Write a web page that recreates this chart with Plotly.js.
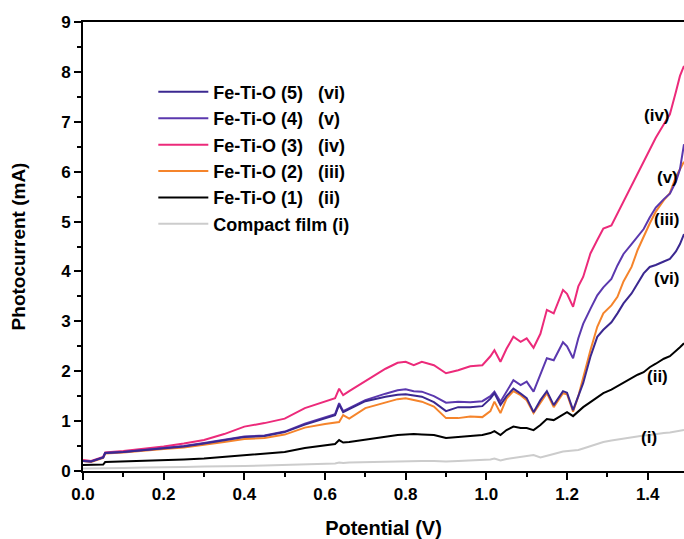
<!DOCTYPE html>
<html>
<head>
<meta charset="utf-8">
<script src="https://cdn.plot.ly/plotly-3.0.1.min.js"></script>
<style>html,body{margin:0;padding:0;background:#fff;}#chart{width:684px;height:539px;}</style>
</head>
<body>
<div id="chart"></div>
<script>
// Potential (V) sample points
const potential = [0, 0.02, 0.05, 0.055, 0.1, 0.15, 0.2, 0.25, 0.3, 0.35,
  0.4, 0.45, 0.5, 0.55, 0.6, 0.625, 0.635, 0.645, 0.66, 0.7,
  0.75, 0.78, 0.8, 0.82, 0.84, 0.87, 0.9, 0.93, 0.96, 0.99,
  1.01, 1.02, 1.035, 1.05, 1.067, 1.085, 1.1, 1.117, 1.134, 1.15,
  1.167, 1.19, 1.2, 1.215, 1.228, 1.24, 1.258, 1.275, 1.29, 1.31,
  1.325, 1.34, 1.36, 1.375, 1.39, 1.405, 1.42, 1.44, 1.455, 1.47,
  1.48, 1.49];

// Photocurrent (mA)
const compactFilm = [0.05, 0.05, 0.06, 0.06, 0.06, 0.07, 0.07, 0.08, 0.09, 0.09,
  0.10, 0.11, 0.12, 0.13, 0.14, 0.15, 0.17, 0.16, 0.17, 0.18,
  0.19, 0.20, 0.20, 0.20, 0.20, 0.20, 0.19, 0.20, 0.21, 0.22,
  0.23, 0.25, 0.21, 0.24, 0.26, 0.27, 0.29, 0.32, 0.27, 0.31,
  0.34, 0.39, 0.40, 0.40, 0.42, 0.45, 0.50, 0.55, 0.58, 0.61,
  0.63, 0.65, 0.67, 0.69, 0.71, 0.72, 0.74, 0.76, 0.77, 0.79,
  0.80, 0.82];
const feTiO1 = [0.12, 0.12, 0.13, 0.18, 0.19, 0.20, 0.21, 0.23, 0.25, 0.28,
  0.32, 0.34, 0.38, 0.46, 0.52, 0.54, 0.62, 0.57, 0.58, 0.63,
  0.69, 0.72, 0.73, 0.74, 0.73, 0.72, 0.66, 0.68, 0.70, 0.72,
  0.76, 0.80, 0.72, 0.82, 0.89, 0.86, 0.86, 0.82, 0.92, 1.04,
  1.02, 1.12, 1.18, 1.10, 1.20, 1.28, 1.38, 1.48, 1.56, 1.63,
  1.70, 1.76, 1.86, 1.93, 1.98, 2.08, 2.15, 2.25, 2.30, 2.40,
  2.48, 2.56];
const feTiO2 = [0.20, 0.18, 0.26, 0.35, 0.37, 0.41, 0.44, 0.47, 0.52, 0.58,
  0.64, 0.66, 0.73, 0.87, 0.94, 0.97, 0.98, 1.12, 1.05, 1.26,
  1.38, 1.44, 1.46, 1.42, 1.39, 1.29, 1.06, 1.06, 1.09, 1.08,
  1.20, 1.39, 1.16, 1.45, 1.60, 1.52, 1.42, 1.16, 1.36, 1.56,
  1.28, 1.56, 1.54, 1.19, 1.50, 1.89, 2.42, 2.89, 3.16, 3.32,
  3.49, 3.80, 4.09, 4.43, 4.70, 4.96, 5.20, 5.43, 5.57, 5.90,
  6.05, 6.20];
const feTiO3 = [0.22, 0.20, 0.28, 0.37, 0.40, 0.44, 0.49, 0.55, 0.62, 0.74,
  0.89, 0.96, 1.05, 1.26, 1.40, 1.46, 1.65, 1.52, 1.60, 1.80,
  2.05, 2.17, 2.19, 2.12, 2.19, 2.12, 1.96, 2.02, 2.10, 2.12,
  2.30, 2.42, 2.19, 2.45, 2.69, 2.59, 2.66, 2.47, 2.75, 3.23,
  3.16, 3.63, 3.55, 3.29, 3.70, 3.89, 4.36, 4.63, 4.86, 4.92,
  5.16, 5.43, 5.75, 5.98, 6.23, 6.45, 6.68, 6.95, 7.15, 7.60,
  7.92, 8.12];
const feTiO4 = [0.20, 0.19, 0.27, 0.36, 0.38, 0.42, 0.46, 0.50, 0.56, 0.63,
  0.69, 0.71, 0.79, 0.95, 1.08, 1.14, 1.36, 1.20, 1.26, 1.42,
  1.55, 1.62, 1.64, 1.60, 1.59, 1.50, 1.37, 1.39, 1.38, 1.40,
  1.50, 1.59, 1.39, 1.60, 1.82, 1.72, 1.79, 1.59, 1.92, 2.26,
  2.22, 2.58, 2.50, 2.26, 2.66, 2.95, 3.25, 3.52, 3.68, 3.85,
  4.12, 4.35, 4.55, 4.70, 4.85, 5.08, 5.28, 5.45, 5.56, 5.80,
  6.05, 6.55];
const feTiO5 = [0.20, 0.19, 0.27, 0.36, 0.38, 0.42, 0.46, 0.49, 0.55, 0.62,
  0.68, 0.70, 0.78, 0.93, 1.06, 1.12, 1.33, 1.18, 1.24, 1.40,
  1.49, 1.53, 1.54, 1.51, 1.49, 1.38, 1.20, 1.28, 1.28, 1.30,
  1.45, 1.56, 1.32, 1.50, 1.65, 1.55, 1.46, 1.18, 1.42, 1.60,
  1.32, 1.60, 1.57, 1.22, 1.52, 1.76, 2.29, 2.69, 2.83, 2.98,
  3.16, 3.36, 3.56, 3.76, 3.96, 4.09, 4.13, 4.20, 4.25, 4.40,
  4.55, 4.75];

const seriesNames = ['Compact film (i)', 'Fe-Ti-O (1)\u00a0\u00a0\u00a0(ii)', 'Fe-Ti-O (2)\u00a0\u00a0\u00a0(iii)',
  'Fe-Ti-O (3)\u00a0\u00a0\u00a0(iv)', 'Fe-Ti-O (4)\u00a0\u00a0\u00a0(v)', 'Fe-Ti-O (5)\u00a0\u00a0\u00a0(vi)'];
const seriesValues = [compactFilm, feTiO1, feTiO2, feTiO3, feTiO4, feTiO5];
const seriesColors = ['#cccccc', '#000000', '#f5842b', '#ec2a7a', '#5b38ae', '#3b2890'];

// curve labels
const labelText = ['(i)', '(ii)', '(iii)', '(iv)', '(v)', '(vi)'];
const labelX = [1.404, 1.424, 1.449, 1.424, 1.449, 1.449];
const labelY = [0.68, 1.90, 5.05, 7.13, 5.89, 3.85];

const FONT = 'Liberation Sans, Arial, sans-serif';

const traces = seriesValues.map((vals, i) => ({
  type: 'scatter', mode: 'lines',
  x: potential, y: vals, name: seriesNames[i],
  legendgroup: 'g' + i,
  legendrank: 100 - i,
  line: {color: seriesColors[i], width: 2}
}));

const annotations = labelText.map((t, i) => ({
  x: labelX[i], y: labelY[i], xref: 'x', yref: 'y', text: t, showarrow: false,
  font: {family: FONT, size: 17, color: '#000', weight: 'bold'}
}));

const layout = {
  width: 684, height: 539,
  margin: {l: 83, r: 0, t: 22, b: 68},
  paper_bgcolor: '#fff', plot_bgcolor: '#fff',
  showlegend: true,
  legend: {
    x: 0.117, y: 0.885, xanchor: 'left', yanchor: 'top',
    bgcolor: 'rgba(0,0,0,0)', borderwidth: 0,
    traceorder: 'grouped', tracegroupgap: 0,
    itemwidth: 50,
    font: {family: FONT, size: 18, color: '#000', weight: 'bold'}
  },
  xaxis: {
    range: [0, 1.49], dtick: 0.2, tick0: 0, tickformat: '.1f',
    showgrid: false, zeroline: false,
    showline: true, linecolor: '#000', linewidth: 2, mirror: true,
    ticks: 'outside', ticklen: 7, tickwidth: 2, tickcolor: '#000',
    minor: {dtick: 0.1, ticks: 'outside', ticklen: 4, tickwidth: 2, tickcolor: '#000', showgrid: false},
    tickfont: {family: FONT, size: 17, color: '#000', weight: 'bold'},
    title: {text: 'Potential (V)', font: {family: FONT, size: 20, color: '#000', weight: 'bold'}, standoff: 18}
  },
  yaxis: {
    range: [0, 9], dtick: 1, tick0: 0,
    showgrid: false, zeroline: false,
    showline: true, linecolor: '#000', linewidth: 2, mirror: true,
    ticks: 'outside', ticklen: 7, tickwidth: 2, tickcolor: '#000',
    minor: {dtick: 0.5, ticks: 'outside', ticklen: 4, tickwidth: 2, tickcolor: '#000', showgrid: false},
    tickfont: {family: FONT, size: 17, color: '#000', weight: 'bold'},
    title: {text: 'Photocurrent (mA)', font: {family: FONT, size: 19, color: '#000', weight: 'bold'}, standoff: 30}
  },
  annotations: annotations
};

Plotly.newPlot('chart', traces, layout, {displayModeBar: false, staticPlot: true});
</script>
</body>
</html>
